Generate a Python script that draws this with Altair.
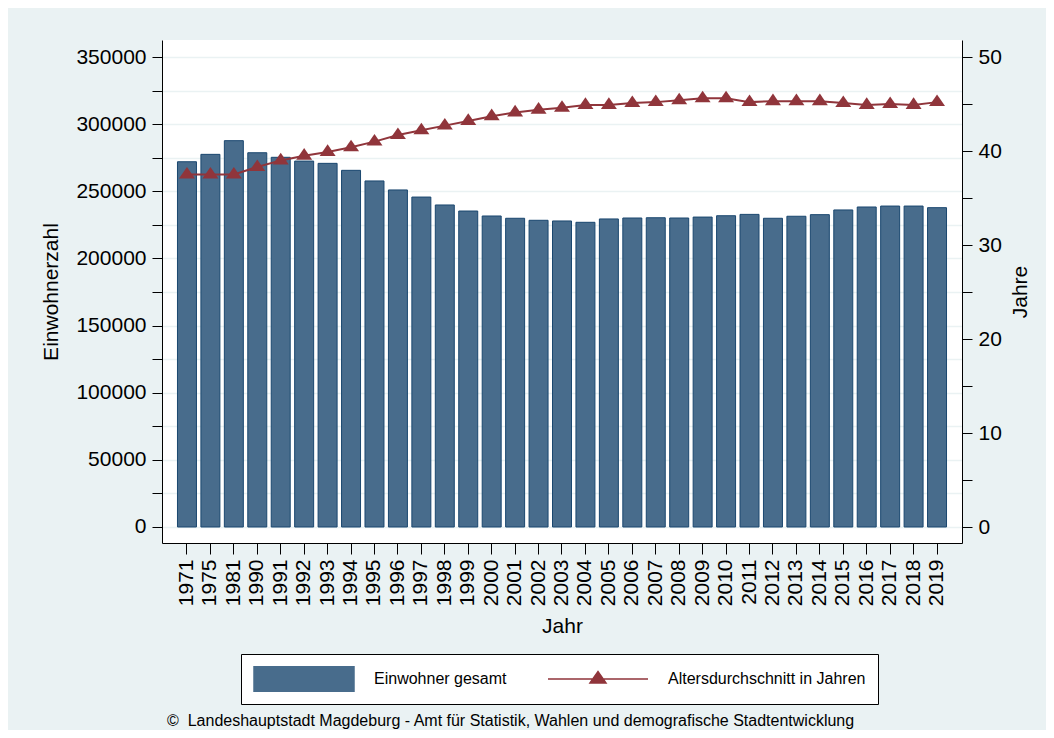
import altair as alt
import pandas as pd

# ---------------- data ----------------
jahre = ["1971", "1975", "1981", "1990", "1991", "1992", "1993", "1994", "1995",
         "1996", "1997", "1998", "1999", "2000", "2001", "2002", "2003", "2004",
         "2005", "2006", "2007", "2008", "2009", "2010", "2011", "2012", "2013",
         "2014", "2015", "2016", "2017", "2018", "2019"]

einwohner = [272000, 277500, 287700, 278700, 275300, 272500, 270800, 265600, 257700,
             251000, 245700, 239800, 235300, 231600, 229900, 228400, 227900, 226900,
             229400, 230100, 230300, 230100, 230800, 231800, 232800, 229900, 231400,
             232600, 236100, 238300, 239000, 239000, 237800]

alter = [37.5, 37.5, 37.5, 38.3, 39.0, 39.5, 39.9, 40.4, 41.0,
         41.7, 42.2, 42.7, 43.2, 43.7, 44.1, 44.4, 44.6, 44.9,
         44.9, 45.1, 45.2, 45.4, 45.6, 45.6, 45.2, 45.3, 45.3,
         45.3, 45.1, 44.9, 45.0, 44.9, 45.2]

SER_BAR = "Einwohner gesamt"
SER_LINE = "Altersdurchschnitt in Jahren"
footer = ["\u00a9\u00a0\u00a0Landeshauptstadt Magdeburg - Amt f\u00fcr Statistik, Wahlen und demografische Stadtentwicklung",
          "Quelle: Statistisches Landesamt Sachsen-Anhalt"]

# ---------------- style ----------------
FONT = "Liberation Sans"
BG = "#EAF2F3"
BAR_FILL = "#486C8C"
BAR_STROKE = "#1A476F"
LINE = "#90353B"
TRI = "M0,-0.95L-1,0.5L1,0.5Z"
SWATCH = "M-1,-0.26H1V0.26H-1Z"
LEG_LINE = "M-1,0H1M-0.16,0.08L0,-0.15L0.16,0.08Z"

df = pd.DataFrame({"Jahr": jahre, "Einwohner": einwohner, "Alter": alter})
footer_df = pd.DataFrame({"zeile": [0]})

color_scale = alt.Scale(domain=[SER_BAR, SER_LINE], range=[BAR_FILL, LINE])

is_bar = f"datum.value === '{SER_BAR}'"
legend = alt.Legend(
    title=None, orient="none", legendX=79, legendY=614,
    direction="horizontal", columns=2,
    symbolSize=10000, clipHeight=26, symbolStrokeWidth=1.5,
    labelFont=FONT, labelFontSize=16, labelColor="black", labelLimit=400,
    labelOffset=19, columnPadding=40, padding=12,
    fillColor="white", strokeColor="black",
    symbolType=alt.ExprRef(expr=f"{is_bar} ? '{SWATCH}' : '{LEG_LINE}'"),
    symbolFillColor=alt.ExprRef(expr=f"{is_bar} ? '{BAR_FILL}' : '{LINE}'"),
    symbolStrokeColor=alt.ExprRef(expr=f"{is_bar} ? '{BAR_STROKE}' : '{LINE}'"),
    symbolOpacity=1,
)

x_enc = alt.X(
    "Jahr:N", sort=jahre,
    scale=alt.Scale(paddingInner=0.19, paddingOuter=0.66),
    axis=alt.Axis(title="Jahr", labelAngle=-90, tickSize=11, labelPadding=5,
                  titlePadding=10, grid=False),
)

bars = alt.Chart(df).transform_calculate(
    Serie=f"'{SER_BAR}'"
).mark_bar(stroke=BAR_STROKE, strokeWidth=1).encode(
    x=x_enc,
    y=alt.Y("Einwohner:Q",
            scale=alt.Scale(domain=[-11915, 362660], nice=False, zero=False),
            axis=alt.Axis(title="Einwohnerzahl", orient="left",
                          values=list(range(0, 350001, 25000)),
                          labelExpr="datum.value % 50000 == 0 ? datum.label : ''",
                          format="d", tickSize=10, labelPadding=6, titlePadding=14,
                          grid=True, gridColor=BG, gridWidth=1.5,
                          labelOverlap=False)),
    color=alt.Color("Serie:N", scale=color_scale, legend=legend),
)

line = alt.Chart(df).transform_calculate(
    Serie=f"'{SER_LINE}'"
).mark_line(
    strokeWidth=2,
    point=alt.OverlayMarkDef(shape=TRI, size=256, filled=True, strokeWidth=0, opacity=1),
).encode(
    x=x_enc,
    y=alt.Y("Alter:Q",
            scale=alt.Scale(domain=[-1.702, 51.809], nice=False, zero=False),
            axis=alt.Axis(title="Jahre", orient="right",
                          values=list(range(0, 51, 5)),
                          labelExpr="datum.value % 10 == 0 ? datum.label : ''",
                          tickSize=10, labelPadding=6, titlePadding=8,
                          titleAngle=-90, titleBaseline="top",
                          grid=False, labelOverlap=False)),
    color=alt.Color("Serie:N", scale=color_scale, legend=legend),
)

# source note below the legend (the second line is cut by the picture edge, as in the original)
note = alt.Chart(footer_df).mark_text(
    align="left", baseline="alphabetic", font=FONT, fontSize=16, lineHeight=16,
    color="black",
).encode(
    x=alt.value(5), y=alt.value(686), text=alt.value(footer),
)

chart = alt.layer(bars, line, note).resolve_scale(y="independent").properties(
    width=800, height=503,
    background=BG,
    padding={"left": 154, "top": 32, "right": 84, "bottom": 187},
    autosize=alt.AutoSizeParams(type="none"),
).configure_view(
    fill="white", stroke=None,
).configure_axis(
    labelFont=FONT, titleFont=FONT, labelFontSize=21, titleFontSize=21,
    labelColor="black", titleColor="black", titleFontWeight="normal",
    domainColor="black", tickColor="black", domainWidth=1, tickWidth=1,
)

chart.save("out.html", embed_options={"renderer": "svg", "actions": False})
